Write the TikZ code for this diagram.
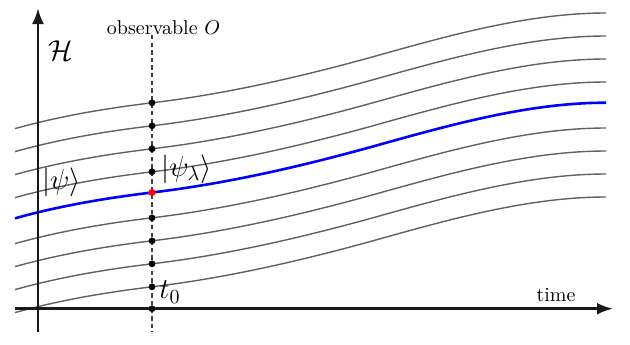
\documentclass[tikz,border=0pt]{standalone}
\usetikzlibrary{arrows.meta}
\tikzset{
  axis/.style={line width=1.4pt, black!90, -{Latex[length=8pt,width=6pt]}},
  graycurve/.style={line width=0.7pt, black!62},
  bluecurve/.style={line width=1.3pt, blue},
  obsline/.style={line width=0.65pt, black!75, dash pattern=on 2.2pt off 1.6pt},
  dot/.style={circle, fill=black, inner sep=0pt, minimum size=3.4pt},
  reddot/.style={circle, fill=red, inner sep=0pt, minimum size=3.6pt},
  lbl/.style={inner sep=0pt}
}
\newcommand{\mycurve}{(15,218.3) .. controls (60,205.7) and (107,197.9) .. (152,192.5)
  .. controls (228,183.4) and (304,165.8) .. (380,144.5)
  .. controls (455,123.5) and (531,102.7) .. (606,102.7)}
\begin{document}
\begin{tikzpicture}[x=0.5pt,y=-0.5pt]
\useasboundingbox (0,0) rectangle (630,344);
% gray curves
\foreach \s in {-89.7,-66.7,-43.7,-20.7,25.3,48.3,71.3,94.3}{
  \begin{scope}[shift={(0,\s)}]
    \draw[graycurve] \mycurve;
  \end{scope}
}
% blue curve
\draw[bluecurve] \mycurve;
% axes
\coordinate (vb) at (38,332);
\coordinate (vt) at (38,8);
\coordinate (hl) at (15,308.7);
\coordinate (hr) at (613,308.7);
\draw[axis] (vb) -- (vt);
\draw[axis] (hl) -- (hr);
% observable line
\coordinate (ot) at (152,35);
\coordinate (ob) at (152,332);
\draw[obsline] (ot) -- (ob);
% dots
\foreach \s [count=\i] in {-89.7,-66.7,-43.7,-20.7,25.3,48.3,71.3,94.3}{
  \node[dot] (d\i) at (152,{192.5+\s}) {};
}
\node[dot] (d0) at (152,308.7) {};
\node[reddot] (dr) at (152,192.5) {};
% labels
\node[lbl] (obs) at (163.5,28) {observable $O$};
\node[lbl] (H) at (61,51) {\Large$\mathcal{H}$};
\node[lbl] (psi) at (61.5,182) {\Large$|\psi\rangle$};
\node[lbl] (psil) at (186.5,169) {\Large$|\psi_\lambda\rangle$};
\node[lbl] (t0) at (170,292) {\Large$t_0$};
\node[lbl, anchor=base] (time) at (556,301) {time};
\end{tikzpicture}
\end{document}
